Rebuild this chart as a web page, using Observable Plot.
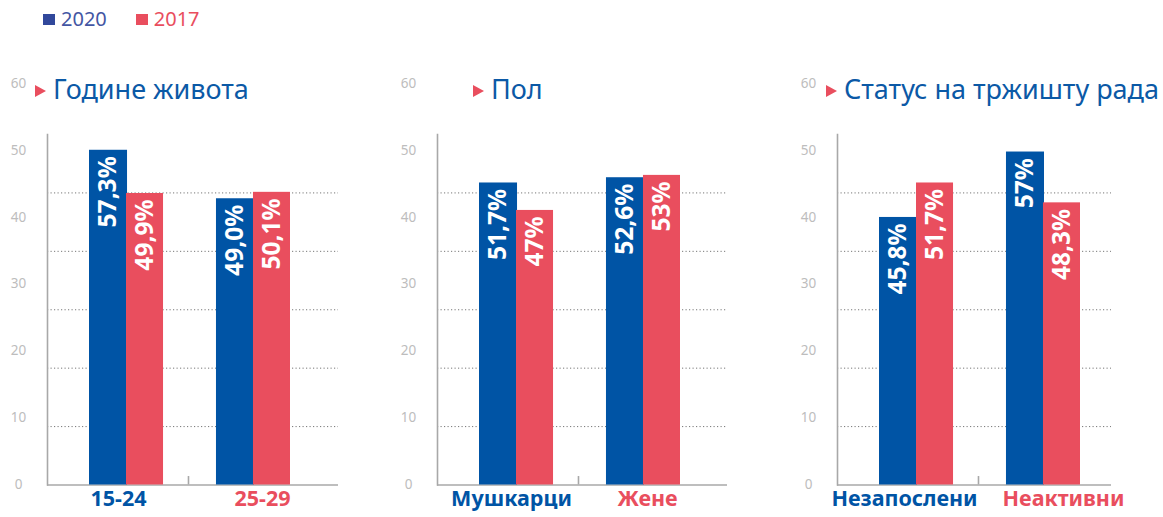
<!DOCTYPE html>
<html>
<head>
<meta charset="utf-8">
<script src="https://cdn.jsdelivr.net/npm/d3@7"></script>
<script src="https://cdn.jsdelivr.net/npm/@observablehq/plot@0.6"></script>
<style>
  body { margin: 0; background: #fff; font-family: "Noto Sans", sans-serif; }
  #root { position: relative; width: 1163px; height: 517px; overflow: hidden; }
  .legend { position: absolute; top: 5px; left: 43px; display: flex; align-items: center; font-size: 20px; font-weight: 400; line-height: 28px; }
  .legend .item { display: flex; align-items: center; margin-right: 29px; }
  .legend .sw { width: 12px; height: 11px; margin-right: 6px; }
  .title { position: absolute; top: 71px; display: flex; align-items: center; font-size: 27px; color: #0b59a6; white-space: nowrap; line-height: 36px; }
  .title .tri { width: 0; height: 0; border-top: 6.5px solid transparent; border-bottom: 6.5px solid transparent; border-left: 11px solid #e94e5e; margin-right: 7px; margin-top: 3px; }
  .panel { position: absolute; top: 40px; }
  .panel svg { overflow: visible; }
</style>
</head>
<body>
<div id="root"></div>
<script>
// ---- data ----
const series = ["2020", "2017"];
const seriesColors = ["#0054a5", "#e94e5e"];
const legendTextColors = ["#4356a3", "#e94e5e"];
const legendSwatchColors = ["#31489b", "#e94e5e"];
const panelTitles = ["Године живота", "Пол", "Статус на тржишту рада"];

const categoriesAge = ["15-24", "25-29"];
const values2020Age = [57.3, 49.0];
const values2017Age = [49.9, 50.1];
const labels2020Age = ["57,3%", "49,0%"];
const labels2017Age = ["49,9%", "50,1%"];

const categoriesSex = ["Мушкарци", "Жене"];
const values2020Sex = [51.7, 52.6];
const values2017Sex = [47, 53];
const labels2020Sex = ["51,7%", "52,6%"];
const labels2017Sex = ["47%", "53%"];

const categoriesStatus = ["Незапослени", "Неактивни"];
const values2020Status = [45.8, 57];
const values2017Status = [51.7, 48.3];
const labels2020Status = ["45,8%", "57%"];
const labels2017Status = ["51,7%", "48,3%"];

// the original's printed axis labels (stretched: label 50 sits at the 57,3 bar top)
const tickLabels = [0, 10, 20, 30, 40, 50, 60];
const tickLabelStretch = 57.3 / 50;
const gridValues = [10, 20, 30, 40, 50];

// ---- layout ----
const root = document.getElementById("root");

const legend = document.createElement("div");
legend.className = "legend";
series.forEach((s, i) => {
  const it = document.createElement("div");
  it.className = "item";
  const sw = document.createElement("div");
  sw.className = "sw";
  sw.style.background = legendSwatchColors[i];
  const tx = document.createElement("span");
  tx.textContent = s;
  tx.style.color = legendTextColors[i];
  it.append(sw, tx);
  legend.append(it);
});
root.append(legend);

const panels = [
  {cats: categoriesAge, v20: values2020Age, v17: values2017Age, l20: labels2020Age, l17: labels2017Age, left: 0, frameW: 291, titleLeft: 35, labelShift: [-8, 9]},
  {cats: categoriesSex, v20: values2020Sex, v17: values2017Sex, l20: labels2020Sex, l17: labels2017Sex, left: 390, frameW: 290, titleLeft: 473, labelShift: [-5, 4]},
  {cats: categoriesStatus, v20: values2020Status, v17: values2017Status, l20: labels2020Status, l17: labels2017Status, left: 790, frameW: 274, titleLeft: 826, labelShift: [-12, 20]}
];

const ML = 47;
const axisColor = "#a8a8a8";

panels.forEach((p, k) => {
  const rows20 = p.cats.map((c, i) => ({cat: c, value: p.v20[i], label: p.l20[i]}));
  const rows17 = p.cats.map((c, i) => ({cat: c, value: p.v17[i], label: p.l17[i]}));
  const chart = Plot.plot({
    width: ML + p.frameW,
    height: 477,
    marginLeft: ML,
    marginRight: 0,
    marginTop: 94,
    marginBottom: 32.5,
    x: {domain: p.cats, range: [ML + 42, ML + 243], paddingInner: 0.417, paddingOuter: 0, round: false, axis: null},
    y: {domain: [0, 60], axis: null},
    style: {fontFamily: "Noto Sans, sans-serif", background: "transparent", overflow: "visible"},
    marks: [
      Plot.ruleY(gridValues, {stroke: "#777", strokeDasharray: "1.2,2.3", strokeWidth: 1}),
      Plot.ruleY([0], {stroke: axisColor, strokeWidth: 1.6}),
      Plot.frame({anchor: "left", stroke: axisColor, strokeWidth: 1.6}),
      Plot.ruleX([p.cats[1]], {y1: 0, y2: 1.45, dx: -65, stroke: axisColor, strokeWidth: 1.6}),
      Plot.barY(rows20, {x: "cat", y: "value", fill: seriesColors[0], insetLeft: 0, insetRight: 36}),
      Plot.barY(rows17, {x: "cat", y: "value", fill: seriesColors[1], insetLeft: 37, insetRight: 0}),
      Plot.text(rows20, {x: "cat", y: "value", text: "label", rotate: -90, textAnchor: "end", dx: -18.5, dy: 6, fill: "white", fontSize: 24.5, fontWeight: 700}),
      Plot.text(rows17, {x: "cat", y: "value", text: "label", rotate: -90, textAnchor: "end", dx: 18.5, dy: 6, fill: "white", fontSize: 24.5, fontWeight: 700}),
      Plot.text(tickLabels, {y: d => d * tickLabelStretch, text: d => String(d), frameAnchor: "left", dx: -29, textAnchor: "middle", fill: "#bdbdbd", fontSize: 13.5}),
      Plot.text([p.cats[0]], {x: d => d, frameAnchor: "bottom", dy: 21, dx: p.labelShift[0], fill: seriesColors[0], fontSize: 21.5, fontWeight: 700}),
      Plot.text([p.cats[1]], {x: d => d, frameAnchor: "bottom", dy: 21, dx: p.labelShift[1], fill: seriesColors[1], fontSize: 21.5, fontWeight: 700})
    ]
  });
  const wrap = document.createElement("div");
  wrap.className = "panel";
  wrap.style.left = p.left + "px";
  wrap.append(chart);
  root.append(wrap);

  const t = document.createElement("div");
  t.className = "title";
  t.style.left = p.titleLeft + "px";
  const tri = document.createElement("div");
  tri.className = "tri";
  const tt = document.createElement("span");
  tt.textContent = panelTitles[k];
  t.append(tri, tt);
  root.append(t);
});
</script>
</body>
</html>
